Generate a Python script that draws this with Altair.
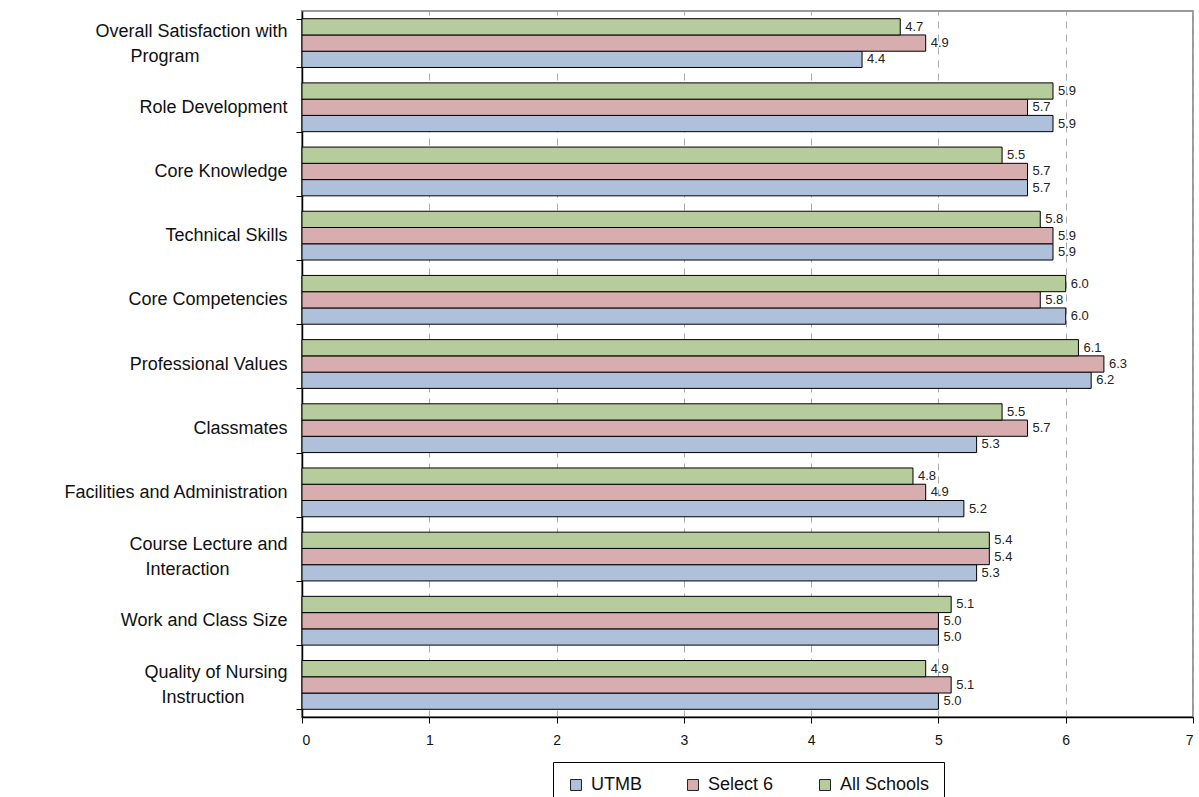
import altair as alt
import pandas as pd

categories = [
    "Overall Satisfaction with Program",
    "Role Development",
    "Core Knowledge",
    "Technical Skills",
    "Core Competencies",
    "Professional Values",
    "Classmates",
    "Facilities and Administration",
    "Course Lecture and Interaction",
    "Work and Class Size",
    "Quality of Nursing Instruction",
]
utmb = [4.4, 5.9, 5.7, 5.9, 6.0, 6.2, 5.3, 5.2, 5.3, 5.0, 5.0]
select6 = [4.9, 5.7, 5.7, 5.9, 5.8, 6.3, 5.7, 4.9, 5.4, 5.0, 5.1]
all_schools = [4.7, 5.9, 5.5, 5.8, 6.0, 6.1, 5.5, 4.8, 5.4, 5.1, 4.9]
series = ["UTMB", "Select 6", "All Schools"]
colors = ["#AFC0DB", "#D8ADAF", "#B6CC9C"]

NB = "\u00a0"
END = "\u2800"
two_line = {
    "Overall Satisfaction with Program": ["Overall Satisfaction with", "Program" + NB * 15 + END],
    "Course Lecture and Interaction": ["Course Lecture and", "Interaction" + NB * 9 + END],
    "Quality of Nursing Instruction": ["Quality of Nursing", "Instruction" + NB * 6 + END],
}

rows = []
for s, vals in zip(series, [utmb, select6, all_schools]):
    for c, v in zip(categories, vals):
        rows.append({"category": c, "series": s, "value": v})
df = pd.DataFrame(rows)

label_expr = "datum.value"
for k, lines in two_line.items():
    arr = "[" + ",".join("'" + l + "'" for l in lines) + "]"
    label_expr = f"datum.value == '{k}' ? {arr} : ({label_expr})"
two_test = "indexof([" + ",".join("'" + k + "'" for k in two_line) + "], datum.value) >= 0"

y_enc = alt.Y(
    "category:N",
    sort=categories,
    scale=alt.Scale(paddingInner=0.24, paddingOuter=0.12),
    axis=alt.Axis(
        title=None,
        labelExpr=label_expr,
        labelFont="Liberation Sans",
        labelFontSize=18,
        labelColor="#111",
        labelLineHeight=25,
        labelPadding=9,
        labelOffset={"condition": {"test": two_test, "value": -12}, "value": 0},
        tickSize=6,
        tickColor="#000",
        domainColor="#000",
        domainWidth=1.5,
        tickBand="extent",
        grid=False,
        labelLimit=400,
    ),
)
yoff = alt.YOffset("series:N", sort=["All Schools", "Select 6", "UTMB"],
                   scale=alt.Scale(paddingInner=0, paddingOuter=0))
x_enc = alt.X(
    "value:Q",
    scale=alt.Scale(domain=[0, 7], nice=False),
    axis=alt.Axis(
        title=None,
        values=[0, 1, 2, 3, 4, 5, 6, 7],
        format="d",
        labelFont="Liberation Sans",
        labelFontSize=14,
        labelColor="#111",
        labelPadding=10,
        tickSize=6,
        tickColor="#000",
        domainColor="#000",
        domainWidth=1.5,
        grid=True,
        gridColor="#aaaaaa",
        gridDash=[7, 6],
        gridWidth=1,
    ),
)

bars = alt.Chart(df).mark_bar(stroke="#000", strokeWidth=1).encode(
    y=y_enc,
    yOffset=yoff,
    x=x_enc,
    color=alt.Color(
        "series:N",
        scale=alt.Scale(domain=series, range=colors),
        legend=alt.Legend(
            title=None,
            orient="none",
            direction="horizontal",
            legendX=251,
            legendY=751,
            strokeColor="#000",
            fillColor="#fff",
            padding=14,
            symbolType="square",
            symbolSize=120,
            symbolStrokeColor="#222",
            symbolStrokeWidth=1,
            symbolOpacity=1,
            labelFont="Liberation Sans",
            labelFontSize=18,
            labelColor="#111",
            columnPadding=42,
            labelOffset=6,
        ),
    ),
)

labels = alt.Chart(df).mark_text(
    align="left", baseline="middle", dx=5, font="Liberation Sans", fontSize=13, color="#222"
).encode(
    y=alt.Y("category:N", sort=categories),
    yOffset=yoff,
    x=alt.X("value:Q"),
    text=alt.Text("value:Q", format=".1f"),
)

chart = (
    alt.layer(bars, labels)
    .properties(
        width=891,
        height=706,
        autosize=alt.AutoSizeParams(type="none"),
        padding={"left": 302, "top": 11, "right": 6, "bottom": 80},
        background="#ffffff",
    )
    .configure_view(stroke="#999999", strokeWidth=2)
)

chart.save("out.html", embed_options={"renderer": "svg", "actions": False})
